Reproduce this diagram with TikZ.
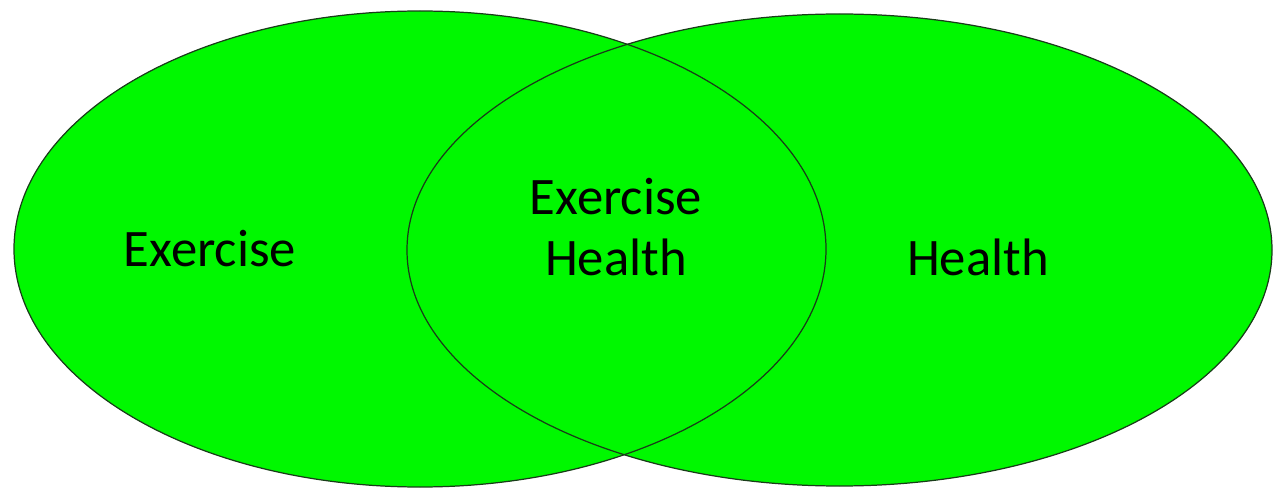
\documentclass[tikz,border=0pt]{standalone}
\usepackage{fontspec}
\setmainfont{Carlito}
\usepackage{tikz}
\usetikzlibrary{shapes.geometric, positioning}

\definecolor{vgreen}{RGB}{0,248,0}
\definecolor{vline}{RGB}{25,60,25}

\begin{document}
\begin{tikzpicture}[
    every node/.style={font=\fontsize{30}{35}\selectfont},
    set/.style={ellipse, fill=vgreen, inner sep=0pt},
    rim/.style={draw=vline, line width=0.7pt},
    lbl/.style={align=center, text=black}
  ]
  \useasboundingbox (0,0) rectangle (25.54,9.78);

  % Sets
  \node[set, minimum width=16.24cm, minimum height=9.52cm] (exer) at (8.40, 4.80) {};
  \node[set, minimum width=17.30cm, minimum height=9.44cm] (heal) at (16.79, 4.78) {};

  % Outlines on top of both fills
  \draw[rim] (exer.center) ellipse [x radius=8.12, y radius=4.76];
  \draw[rim] (heal.center) ellipse [x radius=8.65, y radius=4.72];

  % Labels
  \node[lbl] (lexer) at (4.20, 4.80) {Exercise};
  \node[lbl] (lboth) at (12.32, 5.24) {Exercise\\Health};
  \node[lbl] (lheal) at (19.56, 4.64) {Health};

\end{tikzpicture}
\end{document}
